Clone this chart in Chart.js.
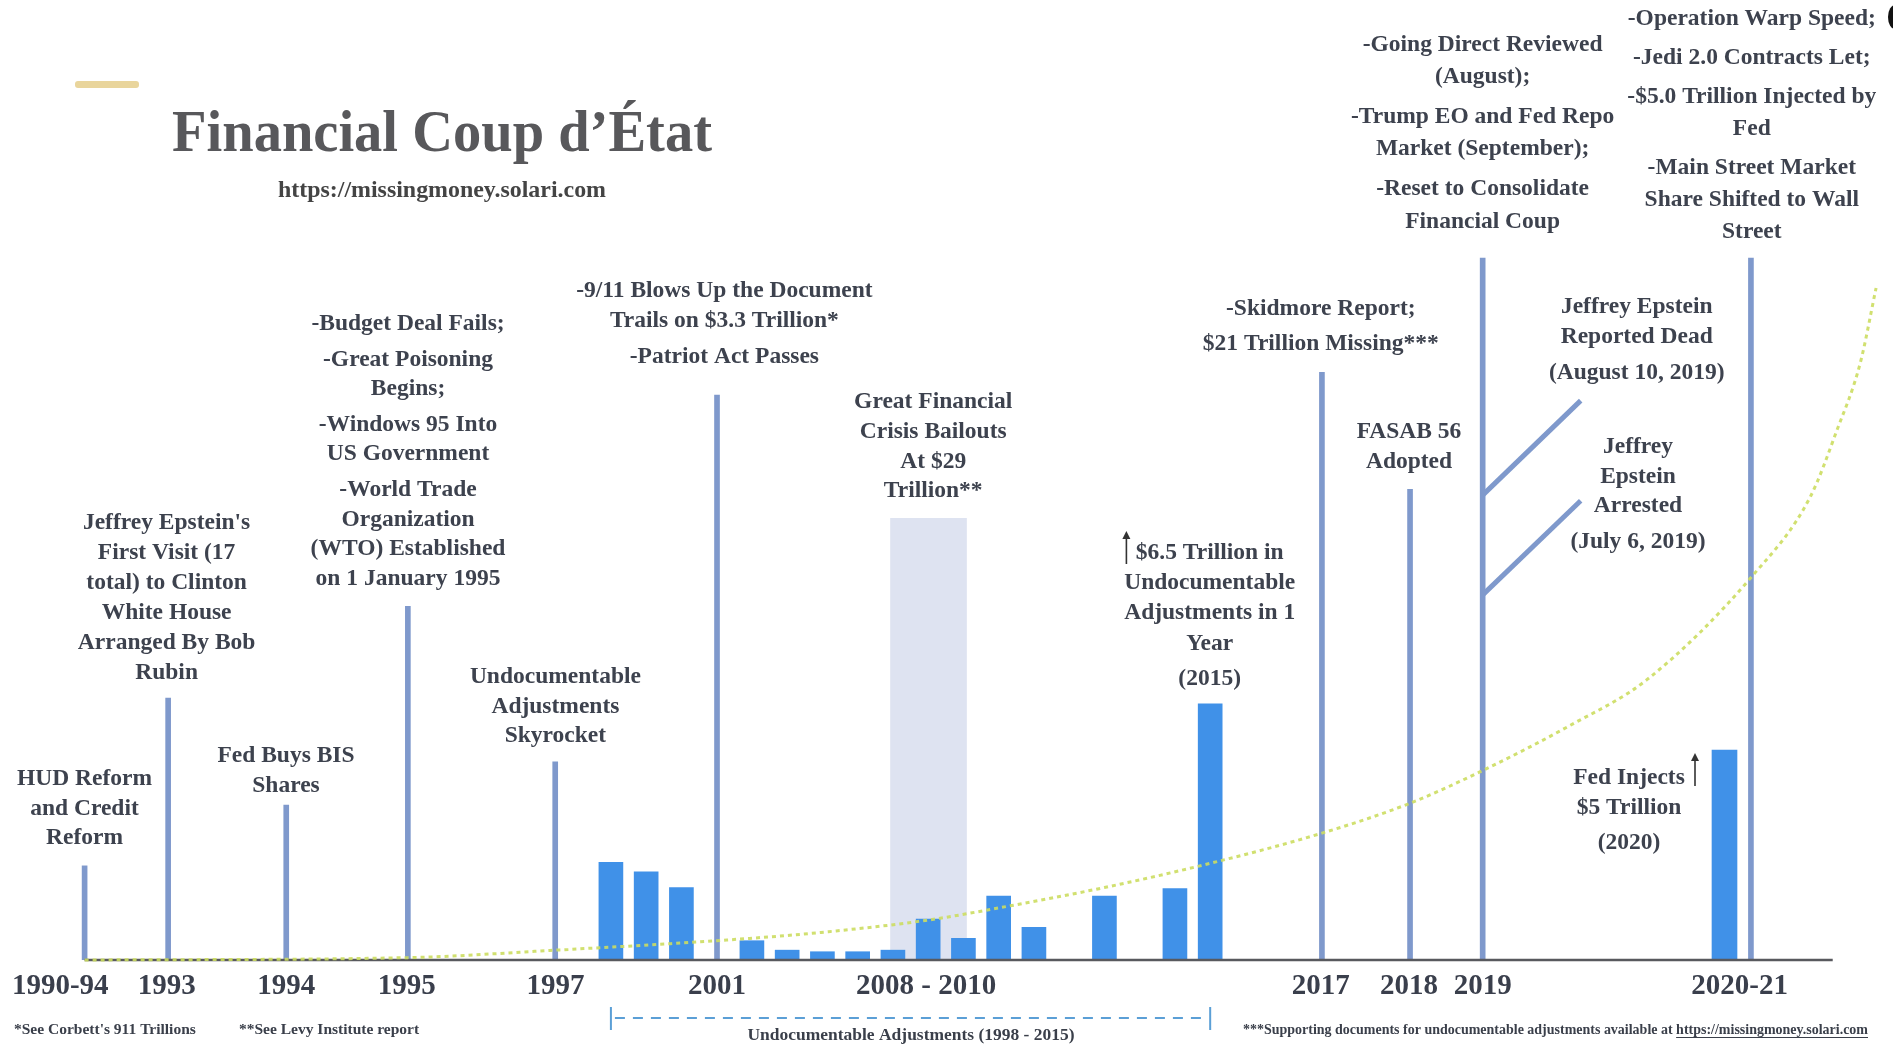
<!DOCTYPE html>
<html><head><meta charset="utf-8">
<script src="https://cdn.jsdelivr.net/npm/chart.js@4.4.1/dist/chart.umd.min.js"></script>
<style>html,body{margin:0;padding:0;background:#fff;overflow:hidden}canvas{display:block}</style>
</head><body>
<canvas id="c" width="1893" height="1046"></canvas>
<script>
// ---------- DATA (timeline position units, values in $ trillions) ----------
const tickPos    = [-15.62, -12.60, -9.21, -5.79, -1.57, 3.01, 8.94, 20.14, 22.64, 24.73, 32.02];
const tickLabels = ['1990-94', '1993', '1994', '1995', '1997', '2001', '2008 - 2010', '2017', '2018', '2019', '2020-21'];

const eventLabels = ['1990-94', '1993', '1994', '1995', '1997', '2001', '2017', '2018', '2019', '2020-21'];
const eventPos    = [-14.93, -12.56, -9.21, -5.76, -1.58, 3.01, 20.17, 22.67, 24.73, 32.34];
const eventHeight = [2.39, 6.65, 3.93, 8.98, 5.03, 14.34, 14.92, 11.95, 17.82, 17.82];

const adjYears  = [1998, 1999, 2000, 2001, 2002, 2003, 2004, 2005, 2006, 2007, 2008, 2009, 2010, 2011, 2012, 2013, 2014, 2015];
const adjValues = [2.48, 2.24, 1.84, null, 0.49, 0.25, 0.21, 0.21, 0.25, 1.04, 0.55, 1.62, 0.83, null, 1.62, null, 1.81, 6.50];

const fedInjectPos = [31.59];
const fedInjectValue = [5.33];

const gfcPos = [9.01];
const gfcHeight = [11.21];

const trendPos    = [-14.93, -5.76, -1.58, 3.01, 5.96, 8.97, 10.99, 14.0, 16.98, 20.17, 22.67, 24.73, 27.2, 29.38, 32.36, 34.02, 34.78, 35.44, 35.89];
const trendValues = [0, 0.06, 0.25, 0.49, 0.70, 1.01, 1.32, 1.84, 2.45, 3.22, 3.98, 4.81, 5.95, 7.11, 9.73, 11.75, 13.45, 15.15, 17.06];

const leaderDeadPos = [24.73, 27.51];
const leaderDeadVal = [11.80, 14.20];
const leaderArrestPos = [24.73, 27.51];
const leaderArrestVal = [9.27, 11.66];

const axisPos = [-14.93, 34.66];
const axisVal = [0, 0];

// ---------- STYLE / LAYOUT ----------
const LINE_BLUE = '#7f99cc';
const BAR_BLUE = '#4091e8';
const TEXT = '#3d424e';
const SERIF = '"Liberation Serif", "Times New Roman", serif';

const annotations = [
  {x: 84.5, y: 779, lh: 29.6, gap: 29.6, paras: [['HUD Reform', 'and Credit', 'Reform']]},
  {x: 166.6, y: 523, lh: 29.9, gap: 29.9, paras: [["Jeffrey Epstein's", 'First Visit (17', 'total) to Clinton', 'White House', 'Arranged By Bob', 'Rubin']]},
  {x: 286, y: 756, lh: 30.2, gap: 30.2, paras: [['Fed Buys BIS', 'Shares']]},
  {x: 408, y: 324, lh: 29.6, gap: 35.6, paras: [['-Budget Deal Fails;'], ['-Great Poisoning', 'Begins;'], ['-Windows 95 Into', 'US Government'], ['-World Trade', 'Organization', '(WTO) Established', 'on 1 January 1995']]},
  {x: 555.4, y: 677, lh: 29.6, gap: 29.6, paras: [['Undocumentable', 'Adjustments', 'Skyrocket']]},
  {x: 724.4, y: 291, lh: 30.2, gap: 36.2, paras: [['-9/11 Blows Up the Document', 'Trails on $3.3 Trillion*'], ['-Patriot Act Passes']]},
  {x: 933.2, y: 402, lh: 29.8, gap: 29.8, paras: [['Great Financial', 'Crisis Bailouts', 'At $29', 'Trillion**']]},
  {x: 1209.7, y: 553, lh: 30.2, gap: 35, paras: [['$6.5 Trillion in', 'Undocumentable', 'Adjustments in 1', 'Year'], ['(2015)']]},
  {x: 1320.8, y: 309, lh: 35, gap: 35, paras: [['-Skidmore Report;'], ['$21 Trillion Missing***']]},
  {x: 1409, y: 432, lh: 30.2, gap: 30.2, paras: [['FASAB 56', 'Adopted']]},
  {x: 1482.6, y: 45, lh: 32.3, gap: 39.8, paras: [['-Going Direct Reviewed', '(August);'], ['-Trump EO and Fed Repo', 'Market (September);'], ['-Reset to Consolidate', 'Financial Coup']]},
  {x: 1751.8, y: 19.3, lh: 32, gap: 38.9, paras: [['-Operation Warp Speed;'], ['-Jedi 2.0 Contracts Let;'], ['-$5.0 Trillion Injected by', 'Fed'], ['-Main Street Market', 'Share Shifted to Wall', 'Street']]},
  {x: 1636.7, y: 307, lh: 29.7, gap: 36.3, paras: [['Jeffrey Epstein', 'Reported Dead'], ['(August 10, 2019)']]},
  {x: 1638, y: 447, lh: 29.7, gap: 35.5, paras: [['Jeffrey', 'Epstein', 'Arrested'], ['(July 6, 2019)']]},
  {x: 1629, y: 778, lh: 29.7, gap: 35.3, paras: [['Fed Injects', '$5 Trillion'], ['(2020)']]}
];

const arrows = [{x: 1126.4, y1: 531, y2: 564}, {x: 1695, y1: 753, y2: 786}];

const pts = (xs, ys) => xs.map((x, i) => ({x: x, y: ys[i]}));

const textPlugin = {
  id: 'texts',
  afterDraw(chart) {
    const ctx = chart.ctx;
    const xs = chart.scales.x;
    ctx.save();
    // gold bar
    ctx.fillStyle = '#e9d59c';
    ctx.beginPath();
    ctx.roundRect(75, 81, 64, 7, 3);
    ctx.fill();
    // title
    ctx.fillStyle = '#58585b';
    ctx.textAlign = 'left';
    ctx.textBaseline = 'alphabetic';
    ctx.font = 'bold 60px ' + SERIF;
    ctx.fillText('Financial Coup d\u2019\u00C9tat', 172, 151, 540);
    ctx.fillStyle = '#444';
    ctx.font = 'bold 24px ' + SERIF;
    ctx.textBaseline = 'middle';
    ctx.fillText('https://missingmoney.solari.com', 278, 191, 328);

    // annotations
    ctx.fillStyle = TEXT;
    ctx.textAlign = 'center';
    ctx.textBaseline = 'middle';
    ctx.font = 'bold 23.5px ' + SERIF;
    annotations.forEach(a => {
      let y = a.y;
      let first = true;
      a.paras.forEach(p => {
        p.forEach((line, li) => {
          if (!first) y += (li === 0 ? a.gap : a.lh);
          first = false;
          ctx.fillText(line, a.x, y);
        });
      });
    });

    // arrows
    ctx.strokeStyle = '#333';
    ctx.fillStyle = '#333';
    ctx.lineWidth = 1.6;
    arrows.forEach(a => {
      ctx.beginPath();
      ctx.moveTo(a.x, a.y2);
      ctx.lineTo(a.x, a.y1 + 6);
      ctx.stroke();
      ctx.beginPath();
      ctx.moveTo(a.x, a.y1);
      ctx.lineTo(a.x - 4, a.y1 + 8);
      ctx.lineTo(a.x + 4, a.y1 + 8);
      ctx.closePath();
      ctx.fill();
    });

    // bracket for undocumentable adjustments
    const bx1 = xs.getPixelForValue(adjYears[0] - adjYears[0]);
    const bx2 = xs.getPixelForValue(adjYears[adjYears.length - 1] - adjYears[0]);
    ctx.strokeStyle = '#5b9fd6';
    ctx.lineWidth = 2;
    ctx.setLineDash([10, 8]);
    ctx.beginPath();
    ctx.moveTo(bx1 + 4, 1018);
    ctx.lineTo(bx2 - 4, 1018);
    ctx.stroke();
    ctx.setLineDash([]);
    ctx.beginPath();
    ctx.moveTo(bx1, 1007); ctx.lineTo(bx1, 1030);
    ctx.moveTo(bx2, 1007); ctx.lineTo(bx2, 1030);
    ctx.stroke();

    // footnotes
    ctx.fillStyle = '#3a3f4a';
    ctx.textAlign = 'left';
    ctx.font = 'bold 15.5px ' + SERIF;
    ctx.fillText('*See Corbett\'s 911 Trillions', 14, 1030, 182);
    ctx.fillText('**See Levy Institute report', 239, 1030, 182);
    const fn3a = '***Supporting documents for undocumentable adjustments available at ';
    const fn3b = 'https://missingmoney.solari.com';
    ctx.font = 'bold 14px ' + SERIF;
    const wa = ctx.measureText(fn3a).width, wb = ctx.measureText(fn3b).width;
    const sc = Math.min(1, 625 / (wa + wb));
    ctx.fillText(fn3a, 1243, 1030, wa * sc);
    ctx.fillText(fn3b, 1243 + wa * sc, 1030, wb * sc);
    ctx.strokeStyle = '#3a3f4a';
    ctx.lineWidth = 1;
    ctx.beginPath();
    ctx.moveTo(1243 + wa * sc, 1037.5); ctx.lineTo(1243 + (wa + wb) * sc, 1037.5);
    ctx.stroke();
    ctx.textAlign = 'center';
    ctx.font = 'bold 17.5px ' + SERIF;
    ctx.fillText('Undocumentable Adjustments (1998 - 2015)', 911, 1035, 327);

    // partial glyph at right edge
    ctx.fillStyle = '#111';
    ctx.beginPath();
    ctx.ellipse(1895, 17, 7, 12, 0, 0, Math.PI * 2);
    ctx.fill();
    ctx.restore();
  }
};

new Chart(document.getElementById('c'), {
  type: 'bar',
  data: {
    datasets: [
      {
        label: 'Great Financial Crisis',
        data: pts(gfcPos, gfcHeight),
        backgroundColor: '#dee3f1',
        barThickness: 76, grouped: false, order: 6
      },
      {
        label: 'Events',
        data: pts(eventPos, eventHeight),
        backgroundColor: LINE_BLUE,
        barThickness: 5, grouped: false, order: 5
      },
      {
        label: 'Undocumentable adjustments',
        data: adjYears.map((yr, i) => ({x: yr - adjYears[0], y: adjValues[i]})),
        backgroundColor: BAR_BLUE,
        barThickness: 24, grouped: false, order: 4
      },
      {
        label: 'Fed injection',
        data: pts(fedInjectPos, fedInjectValue),
        backgroundColor: BAR_BLUE,
        barThickness: 25, grouped: false, order: 4
      },
      {
        type: 'line', label: 'leader1',
        data: pts(leaderDeadPos, leaderDeadVal),
        borderColor: LINE_BLUE, borderWidth: 5, pointRadius: 0, fill: false, order: 3
      },
      {
        type: 'line', label: 'leader2',
        data: pts(leaderArrestPos, leaderArrestVal),
        borderColor: LINE_BLUE, borderWidth: 5, pointRadius: 0, fill: false, order: 3
      },
      {
        type: 'line', label: 'axis',
        data: pts(axisPos, axisVal),
        borderColor: '#58595e', borderWidth: 2.5, pointRadius: 0, fill: false, clip: false, order: 2
      },
      {
        type: 'line', label: 'trend',
        data: pts(trendPos, trendValues),
        borderColor: 'rgba(204,221,96,0.9)', borderWidth: 3, borderDash: [4, 4],
        cubicInterpolationMode: 'monotone', pointRadius: 0, fill: false, clip: false, order: 1
      }
    ]
  },
  options: {
    responsive: false,
    animation: false,
    devicePixelRatio: 1,
    layout: {padding: 0},
    plugins: {legend: {display: false}, tooltip: {enabled: false}},
    scales: {
      x: {
        type: 'linear', min: -17.33, max: 36.37, offset: false,
        grid: {display: false, drawTicks: false},
        border: {display: false},
        afterBuildTicks: s => { s.ticks = tickPos.map(v => ({value: v})); },
        afterFit: s => { s.height = 86; },
        ticks: {
          autoSkip: false, maxRotation: 0, minRotation: 0, padding: 9,
          color: '#3a3f4c',
          font: {family: SERIF, size: 29, weight: 'bold'},
          callback: (v, i) => tickLabels[i]
        }
      },
      y: {
        type: 'linear', min: 0, max: 24.37, display: false
      }
    }
  },
  plugins: [textPlugin]
});
</script>
</body></html>
